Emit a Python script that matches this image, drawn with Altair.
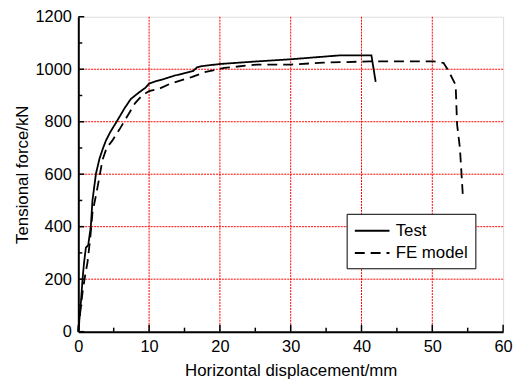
import altair as alt
import pandas as pd

# ---- data ----
test_x = [0, 0.2, 0.37, 0.6, 0.8, 1.07, 1.4, 1.77, 2.0, 2.5, 3.0, 3.5, 3.9, 4.5, 5.5, 6.5, 7.4, 8.5, 9.5,
          10, 11, 12, 13.5, 15, 16.2, 16.8, 17.5, 20, 25.3, 30, 37, 41.4, 42]
test_y = [0, 60, 113, 200, 260, 320, 330, 401, 500, 603, 660, 700, 728, 760, 804, 850, 886, 910, 930,
          945, 955, 962, 975, 985, 993, 1008, 1012, 1020, 1030, 1038, 1053, 1053, 952]

fe_x = [0, 0.3, 0.6, 1.0, 1.3, 1.7, 2.0, 2.5, 2.9, 3.4, 4.0, 4.8, 5.8, 6.7, 8, 9, 10, 11.3, 13, 16, 18,
        20.6, 25.3, 30, 34.6, 41.2, 50.2, 51.6, 52.3, 53.3, 53.5, 53.9, 54.3]
fe_y = [0, 80, 151, 220, 264, 360, 453, 520, 577, 653, 700, 728, 770, 811, 870, 900, 917, 924, 945, 970, 990,
        1005, 1018, 1018, 1025, 1030, 1030, 1024, 993, 940, 790, 700, 525]

series_names = ["Test", "FE model"]

x_major = [0, 10, 20, 30, 40, 50, 60]
x_minor = [5, 15, 25, 35, 45, 55]
y_major = [0, 200, 400, 600, 800, 1000, 1200]
y_minor = [100, 300, 500, 700, 900, 1100]
x_grid = [10, 20, 30, 40, 50]
y_grid = [200, 400, 600, 800, 1000]

# ---- build tables ----
df = pd.concat([
    pd.DataFrame({"x": test_x, "y": test_y, "series": series_names[0], "idx": range(len(test_x))}),
    pd.DataFrame({"x": fe_x, "y": fe_y, "series": series_names[1], "idx": range(len(fe_x))}),
])

W, H = 429, 318
FONT = "Liberation Sans"
xs = alt.Scale(domain=[0, 60], nice=False, zero=False)
ys = alt.Scale(domain=[0, 1200], nice=False, zero=False)
XT = "Horizontal displacement/mm"
YT = "Tensional force/kN"

ax_x = alt.Axis(values=x_major, format="d", ticks=False, grid=False, labelFlush=False,
                domainColor="black", domainWidth=2,
                labelFontSize=16.5, labelColor="black", labelPadding=7,
                titleFontSize=17, titleFontWeight="normal", titleColor="black",
                titlePadding=8, labelFont=FONT, titleFont=FONT)
ax_y = alt.Axis(values=y_major, format="d", ticks=False, grid=False, labelFlush=False,
                domainColor="black", domainWidth=2,
                labelFontSize=16.5, labelColor="black", labelPadding=7,
                titleFontSize=17, titleFontWeight="normal", titleColor="black",
                titlePadding=4, labelFont=FONT, titleFont=FONT)


def X(field="x"):
    return alt.X(f"{field}:Q", scale=xs, axis=ax_x, title=XT)


def Y(field="y"):
    return alt.Y(f"{field}:Q", scale=ys, axis=ax_y, title=YT)


vgrid = alt.Chart(pd.DataFrame({"x": x_grid})).mark_rule(
    color="#ff0000", strokeDash=[2, 1], strokeWidth=1
).encode(x=X())

hgrid = alt.Chart(pd.DataFrame({"y": y_grid})).mark_rule(
    color="#ff0000", strokeDash=[2, 1], strokeWidth=1
).encode(y=Y())

lines = alt.Chart(df).mark_line(strokeWidth=1.8, color="black").encode(
    x=X(),
    y=Y(),
    strokeDash=alt.StrokeDash(
        "series:N",
        scale=alt.Scale(domain=series_names, range=[[1, 0], [10, 6]]),
        legend=alt.Legend(title=None, orient="none", legendX=271, legendY=199,
                          padding=7, strokeColor="black", fillColor="white",
                          symbolType="M-1,0H3", symbolSize=306, symbolStrokeWidth=2,
                          symbolStrokeColor="black", labelFontSize=17, labelFont=FONT,
                          labelColor="black", labelOffset=22.5, rowPadding=4.5),
    ),
    order="idx:Q",
)

xt_major = alt.Chart(pd.DataFrame({"x": x_major})).mark_rule(color="black", strokeWidth=1.5).encode(
    x=X(), y=alt.value(H), y2=alt.value(H - 7))
xt_minor = alt.Chart(pd.DataFrame({"x": x_minor})).mark_rule(color="black", strokeWidth=1.5).encode(
    x=X(), y=alt.value(H), y2=alt.value(H - 4))
yt_major = alt.Chart(pd.DataFrame({"y": y_major})).mark_rule(color="black", strokeWidth=1.5).encode(
    y=Y(), x=alt.value(0), x2=alt.value(6))
yt_minor = alt.Chart(pd.DataFrame({"y": y_minor})).mark_rule(color="black", strokeWidth=1.5).encode(
    y=Y(), x=alt.value(0), x2=alt.value(4))

chart = alt.layer(vgrid, hgrid, lines, xt_major, xt_minor, yt_major, yt_minor).properties(
    width=W, height=H,
    autosize=alt.AutoSizeParams(type="none"),
    padding={"left": 71, "top": 7, "right": 10, "bottom": 49},
).configure_view(stroke=None).configure(font=FONT, background="white")

chart.save("out.html", embed_options={"renderer": "svg", "actions": False})
